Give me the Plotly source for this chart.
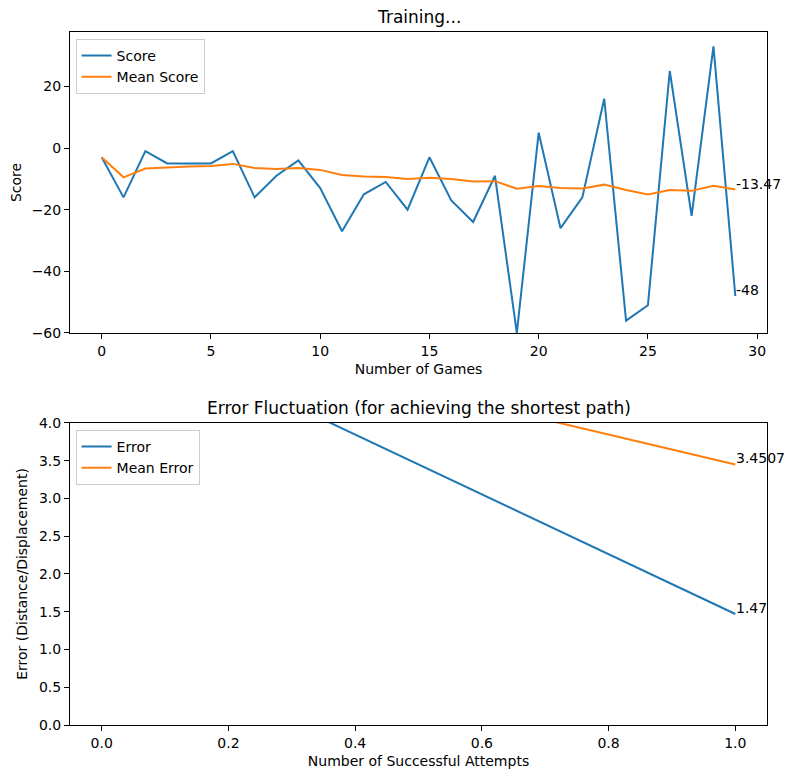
import plotly.graph_objects as go
from plotly.subplots import make_subplots

# training scores per game
games = list(range(30))
scores = [-3, -16, -1, -5, -5, -5, -1, -16, -9, -4,
          -13, -27, -15, -11, -20, -3, -17, -24, -9, -60,
          5, -26, -16, 16, -56, -51, 25, -22, 33, -48]
mean_scores = [-3.0, -9.5, -6.667, -6.25, -6.0, -5.833, -5.143, -6.5, -6.778, -6.5,
               -7.091, -8.75, -9.231, -9.357, -10.067, -9.625, -10.059, -10.833, -10.737, -13.2,
               -12.333, -12.955, -13.087, -11.875, -13.64, -15.077, -13.593, -13.893, -12.276, -13.467]

# error per successful attempt
attempts = [0, 1]
errors = [5.4314, 1.47]
mean_errors = [5.4314, 3.4507]

BLUE = "#1f77b4"
ORANGE = "#ff7f0e"
FONT = "DejaVu Sans"
TICK_SIZE = 14

fig = make_subplots(rows=2, cols=1, vertical_spacing=0.13)
fig.update_yaxes(domain=[0.5657, 1.0], row=1, col=1)
fig.update_yaxes(domain=[0.0, 0.4358], row=2, col=1)

fig.add_trace(go.Scatter(x=games, y=scores, mode="lines", name="Score",
                         line=dict(color=BLUE, width=2), legend="legend"), row=1, col=1)
fig.add_trace(go.Scatter(x=games, y=mean_scores, mode="lines", name="Mean Score",
                         line=dict(color=ORANGE, width=2), legend="legend"), row=1, col=1)
fig.add_trace(go.Scatter(x=attempts, y=errors, mode="lines", name="Error",
                         line=dict(color=BLUE, width=2), legend="legend2"), row=2, col=1)
fig.add_trace(go.Scatter(x=attempts, y=mean_errors, mode="lines", name="Mean Error",
                         line=dict(color=ORANGE, width=2), legend="legend2"), row=2, col=1)

axis_style = dict(
    showline=True, linecolor="black", linewidth=1, mirror=True, automargin=False,
    ticks="outside", ticklen=5, tickcolor="black", showgrid=False, zeroline=False,
    tickfont=dict(family=FONT, size=TICK_SIZE, color="black"),
    title_font=dict(family=FONT, size=TICK_SIZE, color="black"),
)
fig.update_xaxes(**axis_style)
fig.update_yaxes(**axis_style)

fig.update_xaxes(range=[-1.45, 30.45], dtick=5, tick0=0,
                 title=dict(text="Number of Games", standoff=6), row=1, col=1)
fig.update_yaxes(range=[-60, 37.65], dtick=20, tick0=0,
                 title=dict(text="Score", standoff=8), row=1, col=1)
fig.update_xaxes(range=[-0.05, 1.05], dtick=0.2, tick0=0, tickformat=".1f",
                 title=dict(text="Number of Successful Attempts", standoff=6), row=2, col=1)
fig.update_yaxes(range=[0, 4], dtick=0.5, tick0=0, tickformat=".1f",
                 title=dict(text="Error (Distance/Displacement)", standoff=8), row=2, col=1)

# end-point labels
labels = [
    ("x", "y", games[-1], scores[-1], str(scores[-1])),
    ("x", "y", games[-1], mean_scores[-1], f"{mean_scores[-1]:.2f}"),
    ("x2", "y2", attempts[-1], errors[-1], str(errors[-1])),
    ("x2", "y2", attempts[-1], mean_errors[-1], str(mean_errors[-1])),
]
for xr, yr, xv, yv, txt in labels:
    fig.add_annotation(x=xv, y=yv, xref=xr, yref=yr, text=txt, showarrow=False,
                       xanchor="left", yanchor="bottom", xshift=-1, yshift=-4,
                       font=dict(family=FONT, size=TICK_SIZE, color="black"))

# subplot titles
for ytop, txt in [(1.0, "Training..."), (0.4358, "Error Fluctuation (for achieving the shortest path)")]:
    fig.add_annotation(x=0.5, y=ytop, xref="paper", yref="paper", text=txt, showarrow=False,
                       xanchor="center", yanchor="bottom", yshift=3,
                       font=dict(family=FONT, size=17, color="black"))

legend_style = dict(
    xanchor="left", yanchor="top", bgcolor="rgba(255,255,255,0.8)",
    bordercolor="#cccccc", borderwidth=1,
    font=dict(family=FONT, size=TICK_SIZE, color="black"),
)
# page body adds an 8px margin, so the figure is a bit smaller than the window
fig.update_layout(
    width=784, height=770,
    margin=dict(l=62, r=25, t=24, b=53, autoexpand=False),
    paper_bgcolor="white", plot_bgcolor="white",
    font=dict(family=FONT, size=TICK_SIZE, color="black"),
    legend=dict(x=0.008, y=0.99, **legend_style),
    legend2=dict(x=0.008, y=0.4257, **legend_style),
)

fig.write_html("out.html")
